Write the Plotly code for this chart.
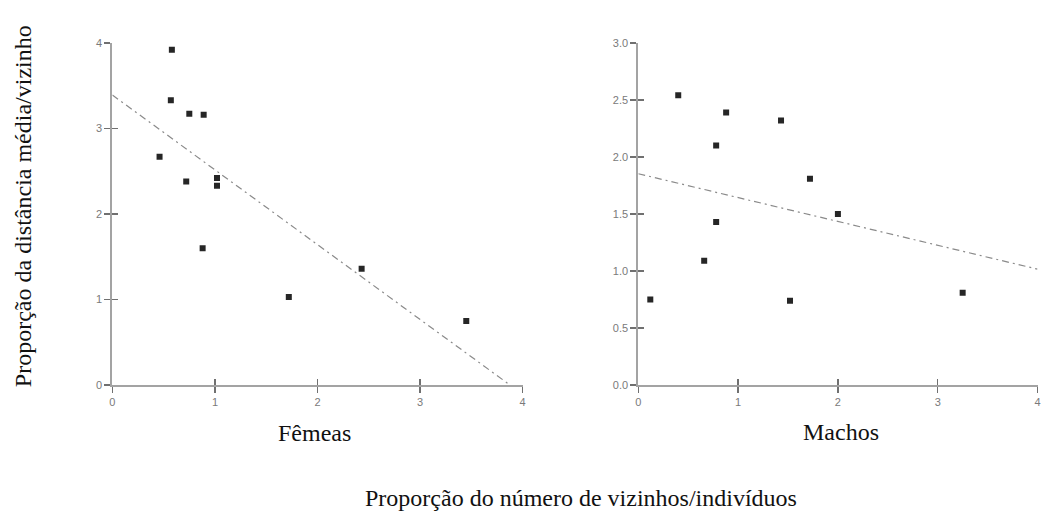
import numpy as np
import plotly.graph_objects as go

# ---- data ----
femeas_x = [0.58, 0.57, 0.75, 0.89, 0.46, 0.72, 1.02, 1.02, 0.88, 1.72, 2.43, 3.45]
femeas_y = [3.92, 3.33, 3.17, 3.16, 2.67, 2.38, 2.42, 2.33, 1.60, 1.03, 1.36, 0.75]

machos_x = [0.40, 0.88, 0.78, 1.43, 1.72, 2.00, 0.78, 0.66, 0.12, 1.52, 3.25]
machos_y = [2.54, 2.39, 2.10, 2.32, 1.81, 1.50, 1.43, 1.09, 0.75, 0.74, 0.81]

# fitted regression lines (intercept, slope)
femeas_fit = (3.39, -0.874)
machos_fit = (1.853, -0.209)

x_ticks = [0, 1, 2, 3, 4]
x_ticklabels = ["0", "1", "2", "3", "4"]
yf_ticks = [0, 1, 2, 3, 4]
yf_ticklabels = ["0", "1", "2", "3", "4"]
ym_ticks = [0.0, 0.5, 1.0, 1.5, 2.0, 2.5, 3.0]
ym_ticklabels = ["0.0", "0.5", "1.0", "1.5", "2.0", "2.5", "3.0"]

panel_title_f = "Fêmeas"
panel_title_m = "Machos"
y_title = "Proporção da distância média/vizinho"
x_title = "Proporção do número de vizinhos/indivíduos"

# ---- figure ----
W, H = 1041, 518
fig = go.Figure()

def fit_line(fit, xmax, ymin):
    a, b = fit
    xe = xmax
    if b < 0 and a + b * xmax < ymin:
        xe = (ymin - a) / b
    xs = np.array([0.0, xe])
    return xs, a + b * xs

MARK = dict(symbol="square", size=6, color="#262626")
LINE = dict(color="#8a8a8a", width=1.2, dash="7px,4px,2px,4px")

lx, ly = fit_line(femeas_fit, 4, 0)
fig.add_trace(go.Scatter(x=lx, y=ly, mode="lines", line=LINE, xaxis="x", yaxis="y", hoverinfo="skip"))
fig.add_trace(go.Scatter(x=femeas_x, y=femeas_y, mode="markers", marker=MARK, xaxis="x", yaxis="y"))

rx, ry = fit_line(machos_fit, 4, 0)
fig.add_trace(go.Scatter(x=rx, y=ry, mode="lines", line=LINE, xaxis="x2", yaxis="y2", hoverinfo="skip"))
fig.add_trace(go.Scatter(x=machos_x, y=machos_y, mode="markers", marker=MARK, xaxis="x2", yaxis="y2"))

dom_l = [110 / W, 522.7 / W]
dom_r = [639 / W, 1040.5 / W]
dom_y = [1 - 388.2 / H, 1 - 37.7 / H]

AX_COL = "#a3a3a3"
TICK_FONT = dict(family="Liberation Sans, Arial, sans-serif", size=11, color="#7a7a7a")

def base_axis(dom, rng, tv, tt, anchor):
    return dict(domain=dom, range=rng, tickmode="array", tickvals=tv, ticktext=tt,
                showgrid=False, zeroline=False, showline=True, linecolor=AX_COL, linewidth=2,
                ticks="outside", ticklen=6, tickwidth=1.5, tickcolor="#707070",
                tickfont=TICK_FONT, anchor=anchor, fixedrange=True)

def inner_axis(dom, rng, tv, anchor, over):
    return dict(domain=dom, range=rng, tickmode="array", tickvals=tv, showticklabels=False,
                showgrid=False, zeroline=False, showline=False,
                ticks="inside", ticklen=6, tickwidth=1.5, tickcolor="#707070",
                anchor=anchor, overlaying=over, fixedrange=True)

fig.update_layout(
    width=W, height=H,
    margin=dict(l=0, r=0, t=0, b=0),
    paper_bgcolor="white", plot_bgcolor="rgba(0,0,0,0)",
    showlegend=False,
    xaxis=base_axis(dom_l, [0, 4], x_ticks, x_ticklabels, "y"),
    yaxis=base_axis(dom_y, [0, 4], yf_ticks, yf_ticklabels, "x"),
    xaxis2=base_axis(dom_r, [0, 4], x_ticks, x_ticklabels, "y2"),
    yaxis2=base_axis(dom_y, [0, 3], ym_ticks, ym_ticklabels, "x2"),
    xaxis3=inner_axis(dom_l, [0, 4], x_ticks, "y", "x"),
    yaxis3=inner_axis(dom_y, [0, 4], yf_ticks, "x", "y"),
    xaxis4=inner_axis(dom_r, [0, 4], x_ticks, "y2", "x2"),
    yaxis4=inner_axis(dom_y, [0, 3], ym_ticks, "x2", "y2"),
)
# invisible traces to activate the overlay axes
for xa, ya in [("x3", "y3"), ("x4", "y4")]:
    fig.add_trace(go.Scatter(x=[None], y=[None], xaxis=xa, yaxis=ya, mode="markers", showlegend=False))

SERIF = dict(family="Liberation Serif, Times New Roman, serif", size=24, color="#111111")
fig.add_annotation(text=panel_title_f, x=313 / W, y=1 - 437 / H, xref="paper", yref="paper",
                   showarrow=False, font=SERIF, xanchor="center", yanchor="middle")
fig.add_annotation(text=panel_title_m, x=843 / W, y=1 - 436 / H, xref="paper", yref="paper",
                   showarrow=False, font=SERIF, xanchor="center", yanchor="middle")
fig.add_annotation(text=y_title, x=20 / W, y=1 - 205 / H, xref="paper", yref="paper",
                   showarrow=False, font=SERIF, textangle=-90, xanchor="center", yanchor="middle")
fig.add_annotation(text=x_title, x=581 / W, y=1 - 504 / H, xref="paper", yref="paper",
                   showarrow=False, font=SERIF, xanchor="center", yanchor="middle")

fig.write_html(
    "out.html",
    config={"displayModeBar": False, "staticPlot": True},
    post_script="document.body.style.margin='0';document.body.style.overflow='hidden';",
)
